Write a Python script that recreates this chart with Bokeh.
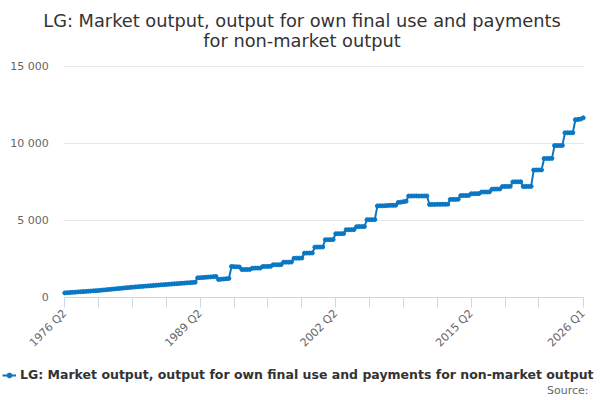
import math
from bokeh.plotting import figure
from bokeh.models import Range1d, FixedTicker, Label, Legend, LegendItem
from bokeh.embed import file_html
from bokeh.resources import INLINE

# ---- data -------------------------------------------------------------
title_line1 = "LG: Market output, output for own final use and payments"
title_line2 = "for non-market output"
series_name = "LG: Market output, output for own final use and payments for non-market output"
source_text = "Source:"

quarters = []
for yr in range(1976, 2027):
    for q in (1, 2, 3, 4):
        if (1976, 2) <= (yr, q) <= (2026, 1):
            quarters.append(f"{yr} Q{q}")

values = [
    300, 312, 324, 336,        # 1976 Q2 - 1977 Q1
    348, 360, 372, 384,
    396, 408, 420, 432,
    444, 457, 474, 490,
    507, 523, 540, 557,
    573, 590, 607, 623,
    640, 656, 673, 687,
    700, 714, 727, 741,
    755, 768, 782, 795,
    809, 823, 836, 850,
    863, 875, 888, 901,
    913, 926, 939, 951,
    964, 977, 990, 1280,
    1290, 1300, 1310, 1325,
    1340, 1355, 1370, 1175,
    1190, 1205, 1220, 1240,
    2020, 2005, 1995, 1985,    # 1992 Q2 -
    1815, 1820, 1820, 1825,
    1905, 1910, 1910, 1915,
    2015, 2020, 2020, 2025,
    2125, 2130, 2130, 2135,
    2295, 2300, 2300, 2305,
    2555, 2560, 2560, 2565,
    2885, 2890, 2890, 2895,
    3275, 3280, 3280, 3285,
    3755, 3760, 3760, 3765,
    4145, 4150, 4150, 4155,
    4405, 4410, 4410, 4415,
    4605, 4610, 4610, 4615,
    5055, 5060, 5060, 5065,
    5955, 5960, 5960, 5965,    # 2006 Q2 -
    5985, 5990, 5990, 5995,
    6180, 6200, 6230, 6260,
    6595, 6600, 6600, 6605,
    6595, 6600, 6600, 6605,
    6045, 6050, 6050, 6055,
    6055, 6060, 6060, 6065,
    6375, 6380, 6380, 6385,
    6625, 6630, 6630, 6635,
    6745, 6750, 6750, 6755,
    6855, 6860, 6860, 6865,
    7045, 7050, 7050, 7055,
    7215, 7220, 7220, 7225,
    7515, 7520, 7520, 7525,
    7215, 7220, 7220, 7225,
    8285, 8290, 8290, 8295,
    9035, 9040, 9040, 9045,
    9875, 9880, 9880, 9885,
    10705, 10710, 10710, 10715,
    11560, 11580, 11600, 11680,  # 2025 Q2 - 2026 Q1
]

y_ticks = [0, 5000, 10000, 15000]
y_tick_labels = ["0", "5 000", "10 000", "15 000"]

# ---- layout (pixel geometry of the canvas) -----------------------------
W, H = 600, 400
n = len(quarters)
plot_left, plot_right = 64.3, 582.7      # x of first / last category
plot_top, plot_bottom = 66.3, 297.0      # y of 15000 / 0
ymax = 15000

px_per_q = (plot_right - plot_left) / (n - 1)
x_start = -plot_left / px_per_q
x_end = (n - 1) + (W - plot_right) / px_per_q
px_per_v = (plot_bottom - plot_top) / ymax
y_start = -(H - plot_bottom) / px_per_v
y_end = ymax + plot_top / px_per_v

color = "#0a77c4"
xs = list(range(n))

p = figure(width=W, height=H, output_backend="svg", toolbar_location=None,
           x_range=Range1d(x_start, x_end), y_range=Range1d(y_start, y_end),
           min_border=0, min_border_left=0, min_border_right=0,
           min_border_top=0, min_border_bottom=0,
           outline_line_color=None, background_fill_color="white", border_fill_color="white")

r_line = p.line(xs, values, line_color=color, line_width=2)
r_pts = p.scatter(xs, values, size=4, fill_color=color, line_color=color)

# x axis (sits on the value 0)
step = 13
tick_idx = list(range(0, n - 1 - step, step)) + [n - 1]
labeled = {0, 52, 104, 156, n - 1}
xa = p.xaxis[0]
xa.fixed_location = 0
xa.bounds = (0, n - 1)
xa.ticker = FixedTicker(ticks=tick_idx)
xa.major_label_overrides = {i: (quarters[i] if i in labeled else "") for i in tick_idx}
xa.major_label_orientation = math.pi / 4
xa.axis_line_color = "#ccd6eb"
xa.major_tick_line_color = "#ccd6eb"
xa.major_tick_out = 10
xa.major_tick_in = 0
xa.minor_tick_line_color = None
xa.major_label_text_font = "DejaVu Sans"
xa.major_label_text_font_size = "11px"
xa.major_label_text_color = "#666666"
xa.major_label_standoff = 4

# y axis (sits on the first category)
ya = p.yaxis[0]
ya.fixed_location = 0
ya.bounds = (0, ymax)
ya.ticker = FixedTicker(ticks=y_ticks)
ya.major_label_overrides = dict(zip(y_ticks, y_tick_labels))
ya.axis_line_color = None
ya.major_tick_line_color = None
ya.minor_tick_line_color = None
ya.major_tick_out = 0
ya.major_tick_in = 0
ya.major_label_standoff = 16
ya.major_label_text_font = "DejaVu Sans"
ya.major_label_text_font_size = "11px"
ya.major_label_text_color = "#666666"

p.xgrid.visible = False
p.ygrid.ticker = FixedTicker(ticks=y_ticks)
p.ygrid.grid_line_color = "#e6e6e6"
p.ygrid.bounds = (0, ymax)
try:
    p.ygrid.cross_bounds = (0, n - 1)
except Exception:
    pass

# titles
for txt, base in ((title_line1, 19.5), (title_line2, 39.5)):
    p.add_layout(Label(x=301.5, y=H - base, x_units="screen", y_units="screen", text=txt,
                       text_align="center", text_baseline="alphabetic",
                       text_font="DejaVu Sans", text_font_size="17.8px", text_color="#333333"))

# legend
legend = Legend(items=[LegendItem(label=series_name, renderers=[r_line, r_pts])],
                location=(2, H - 376 - 6), orientation="horizontal",
                border_line_color=None, background_fill_alpha=0,
                padding=0, margin=0, spacing=0, glyph_width=14, glyph_height=12,
                label_standoff=4, label_height=12,
                label_text_font="DejaVu Sans", label_text_font_style="bold",
                label_text_font_size="12.5px", label_text_color="#333333")
p.add_layout(legend)

p.add_layout(Label(x=588, y=H - 390, x_units="screen", y_units="screen", text=source_text,
                   text_align="right", text_baseline="middle",
                   text_font="DejaVu Sans", text_font_size="11px", text_color="#666666"))

open("out.html", "w").write(file_html(p, INLINE))
